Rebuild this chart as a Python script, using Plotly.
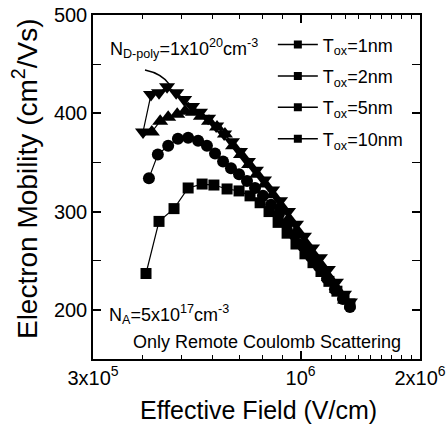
import plotly.graph_objects as go

# Effective field (V/cm) and electron mobility (cm^2/Vs) per oxide thickness
E_1nm = [4.01e5, 4.20e5, 4.40e5, 4.61e5, 4.86e5, 5.09e5, 5.33e5, 5.58e5, 5.85e5, 6.13e5,
         6.42e5, 6.72e5, 7.04e5, 7.37e5, 7.72e5, 8.09e5, 8.48e5, 8.88e5, 9.30e5, 9.74e5,
         1.020e6, 1.069e6, 1.119e6, 1.172e6, 1.228e6, 1.287e6, 1.332e6]
mu_1nm = [381, 419, 421, 427, 421, 414, 407, 401, 395, 387,
          379, 371, 361, 351, 342, 332, 322, 311, 300, 287,
          275, 263, 253, 241, 228, 216, 208]

E_2nm = [4.22e5, 4.43e5, 4.64e5, 4.89e5, 5.12e5, 5.36e5, 5.61e5, 5.88e5, 6.16e5, 6.45e5,
         6.76e5, 7.08e5, 7.42e5, 7.77e5, 8.14e5, 8.52e5, 8.93e5, 9.35e5, 9.80e5, 1.026e6,
         1.075e6, 1.126e6, 1.179e6, 1.235e6, 1.294e6]
mu_2nm = [381, 392, 396, 399, 402, 401, 397, 392, 386, 379,
          367, 358, 348, 338, 328, 317, 306, 293, 281, 269,
          257, 246, 233, 221, 210]

E_5nm = [4.15e5, 4.37e5, 4.64e5, 4.91e5, 5.21e5, 5.52e5, 5.81e5, 6.09e5, 6.38e5, 6.68e5,
         7.00e5, 7.33e5, 7.68e5, 8.04e5, 8.43e5, 8.83e5, 9.25e5, 9.68e5, 1.014e6, 1.062e6,
         1.113e6, 1.166e6, 1.221e6, 1.279e6, 1.332e6]
mu_5nm = [334, 358, 367, 374, 375, 372, 367, 359, 351, 344,
          338, 331, 324, 316, 307, 298, 287, 276, 265, 254,
          244, 232, 221, 211, 203]

E_10nm = [4.08e5, 4.40e5, 4.80e5, 5.21e5, 5.65e5, 6.05e5, 6.53e5, 7.00e5, 7.46e5, 7.91e5,
          8.33e5, 8.78e5, 9.25e5, 9.74e5, 1.026e6, 1.075e6, 1.126e6, 1.179e6, 1.235e6, 1.287e6,
          1.332e6]
mu_10nm = [237, 290, 303, 324, 328, 327, 323, 321, 316, 309,
           300, 289, 278, 267, 257, 248, 239, 229, 219, 212,
           206]

series = [
    ("T<sub>ox</sub>=1nm", E_1nm, mu_1nm, "triangle-down", 14),
    ("T<sub>ox</sub>=2nm", E_2nm, mu_2nm, "triangle-up", 14),
    ("T<sub>ox</sub>=5nm", E_5nm, mu_5nm, "circle", 12),
    ("T<sub>ox</sub>=10nm", E_10nm, mu_10nm, "square", 11),
]

x_tickvals = [3e5, 1e6, 2e6]
x_ticktext = ["3x10<sup>5</sup>", "10<sup>6</sup>", "2x10<sup>6</sup>"]
x_minor = [4e5, 5e5, 6e5, 7e5, 8e5, 9e5, 1.2e6, 1.3e6, 1.4e6, 1.5e6, 1.6e6, 1.7e6, 1.8e6, 1.9e6]
y_tickvals = [200, 300, 400, 500]
y_minor = [150, 250, 350, 450]

FONT = "Liberation Sans, Arial, Helvetica, sans-serif"

fig = go.Figure()
for name, xs, ys, sym, size in series:
    fig.add_trace(go.Scatter(
        x=xs, y=ys, mode="lines+markers", showlegend=False,
        line=dict(color="black", width=1.2),
        marker=dict(symbol=sym, size=size, color="black"),
    ))
# Legend entries (reference shows square symbols for all)
for i, (name, xs, ys, sym, size) in enumerate(series):
    fig.add_trace(go.Scatter(
        x=[None], y=[None], mode="lines+markers", name=name, legendgroup=f"g{i}",
        line=dict(color="black", width=1.5),
        marker=dict(symbol="square", size=8, color="black"),
    ))

fig.update_layout(
    width=448, height=432,
    margin=dict(l=93, r=28, t=15, b=73),
    paper_bgcolor="white", plot_bgcolor="white",
    font=dict(family=FONT, color="black", size=18),
    legend=dict(x=0.55, y=0.967, xanchor="left", yanchor="top",
                bgcolor="rgba(0,0,0,0)", font=dict(size=18),
                itemwidth=40, tracegroupgap=5, traceorder="grouped"),
    xaxis=dict(
        type="log", range=[5.4771, 6.30103], automargin=False,
        ticklabeloverflow="allow",
        tickmode="array", tickvals=x_tickvals, ticktext=x_ticktext,
        ticks="inside", ticklen=8, tickwidth=1.5, tickcolor="black",
        minor=dict(tickmode="array", tickvals=x_minor, ticks="inside", ticklen=4,
                   tickwidth=1.2, tickcolor="black"),
        showline=True, linecolor="black", linewidth=1.5, mirror="ticks",
        showgrid=False, zeroline=False,
        tickfont=dict(size=20),
    ),
    yaxis=dict(
        range=[150, 500], automargin=False,
        ticklabeloverflow="allow",
        tickmode="array", tickvals=y_tickvals,
        ticks="inside", ticklen=8, tickwidth=1.5, tickcolor="black",
        minor=dict(tickmode="array", tickvals=y_minor, ticks="inside", ticklen=8,
                   tickwidth=1.2, tickcolor="black"),
        showline=True, linecolor="black", linewidth=1.5, mirror="ticks",
        showgrid=False, zeroline=False,
        tickfont=dict(size=20),
    ),
)

# Axis titles
fig.add_annotation(text="Effective Field (V/cm)", xref="paper", yref="paper",
                   x=0.505, y=-0.148, xanchor="center", yanchor="middle",
                   showarrow=False, font=dict(size=25))
fig.add_annotation(text="Electron Mobility (cm<sup>2</sup>/Vs)", xref="paper", yref="paper",
                   x=-0.208, y=0.526, xanchor="center", yanchor="middle", textangle=-90,
                   showarrow=False, font=dict(size=28))

fig.add_annotation(text="N<sub>D-poly</sub>=1x10<sup>20</sup>cm<sup>-3</sup>",
                   xref="paper", yref="paper", x=0.046, y=0.904, xanchor="left", yanchor="middle",
                   showarrow=False, font=dict(size=18))
fig.add_annotation(text="N<sub>A</sub>=5x10<sup>17</sup>cm<sup>-3</sup>",
                   xref="paper", yref="paper", x=0.043, y=0.128, xanchor="left", yanchor="middle",
                   showarrow=False, font=dict(size=18))
fig.add_annotation(text="Only Remote Coulomb Scattering",
                   xref="paper", yref="paper", x=0.116, y=0.049, xanchor="left", yanchor="middle",
                   showarrow=False, font=dict(size=18))
fig.add_shape(type="path", xref="paper", yref="paper",
              path="M 0.159,0.840 Q 0.210,0.830 0.235,0.797",
              line=dict(color="black", width=1.5))

fig.write_html("out.html", config={"displayModeBar": False},
               post_script="document.body.style.margin='0';")
